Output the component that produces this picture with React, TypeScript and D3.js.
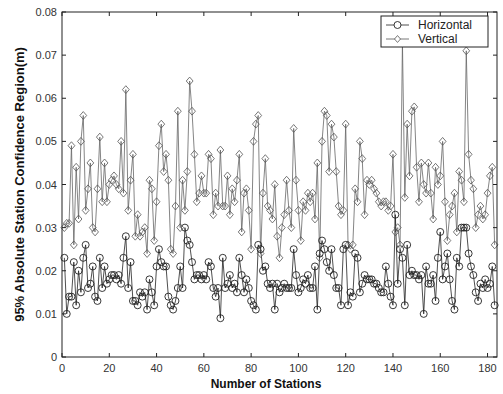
import React from 'react';
import * as d3 from 'd3';

// values, station 1..183
const horizontal = [
  0.023, 0.010, 0.014, 0.014, 0.022, 0.012, 0.020, 0.015, 0.023, 0.026, 0.016, 0.017, 0.021, 0.014, 0.013, 0.023, 0.016, 0.021, 0.017, 0.018,
  0.019, 0.019, 0.018, 0.019, 0.017, 0.023, 0.028, 0.016, 0.022, 0.013, 0.013, 0.012, 0.015, 0.014, 0.015, 0.011, 0.018, 0.015, 0.012, 0.021,
  0.025, 0.022, 0.021, 0.021, 0.014, 0.012, 0.011, 0.013, 0.016, 0.021, 0.016, 0.030, 0.027, 0.026, 0.022, 0.018, 0.019, 0.019, 0.018, 0.019,
  0.018, 0.022, 0.021, 0.016, 0.014, 0.016, 0.009, 0.023, 0.016, 0.017, 0.019, 0.016, 0.017, 0.015, 0.023, 0.019, 0.015, 0.018, 0.016, 0.013,
  0.012, 0.011, 0.026, 0.025, 0.020, 0.021, 0.017, 0.016, 0.017, 0.011, 0.017, 0.015, 0.016, 0.017, 0.016, 0.016, 0.016, 0.025, 0.019, 0.015,
  0.016, 0.018, 0.017, 0.019, 0.016, 0.016, 0.021, 0.011, 0.024, 0.027, 0.025, 0.022, 0.020, 0.025, 0.019, 0.016, 0.016, 0.012, 0.025, 0.026,
  0.012, 0.015, 0.014, 0.024, 0.023, 0.015, 0.017, 0.019, 0.018, 0.018, 0.018, 0.017, 0.017, 0.016, 0.015, 0.015, 0.021, 0.017, 0.014, 0.012,
  0.033, 0.017, 0.025, 0.023, 0.012, 0.026, 0.019, 0.020, 0.019, 0.019, 0.018, 0.019, 0.010, 0.021, 0.017, 0.017, 0.019, 0.013, 0.023, 0.029,
  0.018, 0.021, 0.024, 0.018, 0.013, 0.011, 0.023, 0.021, 0.030, 0.030, 0.030, 0.024, 0.021, 0.019, 0.015, 0.013, 0.017, 0.016, 0.018, 0.016,
  0.017, 0.021, 0.012
];

const vertical = [
  0.030, 0.031, 0.031, 0.049, 0.026, 0.044, 0.032, 0.050, 0.056, 0.034, 0.039, 0.045, 0.030, 0.029, 0.039, 0.051, 0.036, 0.045, 0.036, 0.040,
  0.041, 0.042, 0.040, 0.039, 0.050, 0.038, 0.062, 0.034, 0.041, 0.047, 0.028, 0.033, 0.028, 0.029, 0.030, 0.024, 0.041, 0.039, 0.027, 0.036,
  0.049, 0.054, 0.043, 0.047, 0.041, 0.025, 0.024, 0.035, 0.057, 0.030, 0.041, 0.034, 0.043, 0.064, 0.057, 0.047, 0.036, 0.038, 0.042, 0.038,
  0.038, 0.047, 0.046, 0.033, 0.038, 0.035, 0.048, 0.035, 0.035, 0.042, 0.033, 0.039, 0.036, 0.041, 0.047, 0.029, 0.038, 0.039, 0.034, 0.025,
  0.050, 0.054, 0.056, 0.024, 0.038, 0.046, 0.035, 0.034, 0.032, 0.040, 0.028, 0.023, 0.030, 0.033, 0.041, 0.034, 0.030, 0.053, 0.041, 0.034,
  0.027, 0.036, 0.034, 0.038, 0.036, 0.038, 0.032, 0.045, 0.023, 0.050, 0.057, 0.056, 0.043, 0.054, 0.051, 0.043, 0.035, 0.033, 0.034, 0.054,
  0.026, 0.025, 0.026, 0.039, 0.036, 0.050, 0.046, 0.033, 0.041, 0.040, 0.041, 0.039, 0.038, 0.036, 0.035, 0.036, 0.036, 0.034, 0.035, 0.047,
  0.029, 0.030, 0.026, 0.073, 0.037, 0.054, 0.042, 0.057, 0.058, 0.044, 0.036, 0.045, 0.040, 0.038, 0.045, 0.038, 0.032, 0.044, 0.040, 0.042,
  0.050, 0.036, 0.027, 0.033, 0.035, 0.038, 0.029, 0.043, 0.041, 0.036, 0.071, 0.047, 0.041, 0.039, 0.030, 0.033, 0.035, 0.032, 0.033, 0.038,
  0.042, 0.044, 0.026
];

const xTicks = [0, 20, 40, 60, 80, 100, 120, 140, 160, 180];
const yTicks = [0, 0.01, 0.02, 0.03, 0.04, 0.05, 0.06, 0.07, 0.08];
const seriesNames = ['Horizontal', 'Vertical'];

const W = 503, H = 394;
const margin = { left: 62, right: 6, top: 12, bottom: 37 };
const font = '"Liberation Sans", Arial, sans-serif';

function diamond(cx, cy, r) {
  return `M${cx},${cy - r * 1.15}L${cx + r},${cy}L${cx},${cy + r * 1.15}L${cx - r},${cy}Z`;
}

export default function App() {
  const x = d3.scaleLinear().domain([0, 184]).range([margin.left, W - margin.right]);
  const y = d3.scaleLinear().domain([0, 0.08]).range([H - margin.bottom, margin.top]);

  const line = d3.line<number>()
    .x((d, i) => x(i + 1))
    .y(d => y(d));

  const [x0, x1] = x.range();
  const [y0, y1] = y.range();
  const tick = 4;

  // legend box
  const lx = 381, ly = 16, lw = 107, lh = 31;

  return (
    <svg width={W} height={H} style={{ position: 'absolute', left: 0, top: 0, background: '#fff' }}>
      {/* series */}
      <path d={line(vertical) || ''} fill="none" stroke="#666" strokeWidth={0.8} />
      <path d={line(horizontal) || ''} fill="none" stroke="#222" strokeWidth={0.8} />
      {vertical.map((v, i) => (
        <path key={'v' + i} d={diamond(x(i + 1), y(v), 3.4)} fill="none" stroke="#555" strokeWidth={0.8} />
      ))}
      {horizontal.map((v, i) => (
        <circle key={'h' + i} cx={x(i + 1)} cy={y(v)} r={3.5} fill="none" stroke="#222" strokeWidth={0.9} />
      ))}

      {/* frame and ticks */}
      <rect x={x0} y={y1} width={x1 - x0} height={y0 - y1} fill="none" stroke="#222" strokeWidth={1} />
      {xTicks.map(t => (
        <g key={'xt' + t}>
          <line x1={x(t)} x2={x(t)} y1={y0} y2={y0 - tick} stroke="#222" />
          <line x1={x(t)} x2={x(t)} y1={y1} y2={y1 + tick} stroke="#222" />
          <text x={x(t)} y={y0 + 15} textAnchor="middle" fontSize={11} fontFamily={font} fill="#333">{t}</text>
        </g>
      ))}
      {yTicks.map(t => (
        <g key={'yt' + t}>
          <line x1={x0} x2={x0 + tick} y1={y(t)} y2={y(t)} stroke="#222" />
          <line x1={x1} x2={x1 - tick} y1={y(t)} y2={y(t)} stroke="#222" />
          <text x={x0 - 5} y={y(t) + 4} textAnchor="end" fontSize={11} fontFamily={font} fill="#333">{t === 0 ? '0' : t.toFixed(2)}</text>
        </g>
      ))}

      {/* axis titles */}
      <text x={266} y={388} textAnchor="middle" fontSize={12} fontWeight="bold" fontFamily={font} fill="#111">Number of Stations</text>
      <text transform={`translate(24,${(y0 + y1) / 2}) rotate(-90)`} textAnchor="middle" fontSize={13} fontWeight="bold" fontFamily={font} fill="#111">
        95% Absolute Station Confidence Region(m)
      </text>

      {/* legend */}
      <rect x={lx} y={ly} width={lw} height={lh} fill="#fff" stroke="#222" strokeWidth={1} />
      <line x1={lx + 5} x2={lx + 28} y1={ly + 9} y2={ly + 9} stroke="#222" strokeWidth={0.8} />
      <circle cx={lx + 16.5} cy={ly + 9} r={3.5} fill="#fff" stroke="#222" strokeWidth={0.9} />
      <text x={lx + 37} y={ly + 13} fontSize={12} fontFamily={font} fill="#222">{seriesNames[0]}</text>
      <line x1={lx + 5} x2={lx + 28} y1={ly + 23} y2={ly + 23} stroke="#555" strokeWidth={0.8} />
      <path d={diamond(lx + 16.5, ly + 23, 3)} fill="#fff" stroke="#555" strokeWidth={0.8} />
      <text x={lx + 37} y={ly + 27} fontSize={12} fontFamily={font} fill="#222">{seriesNames[1]}</text>
    </svg>
  );
}
